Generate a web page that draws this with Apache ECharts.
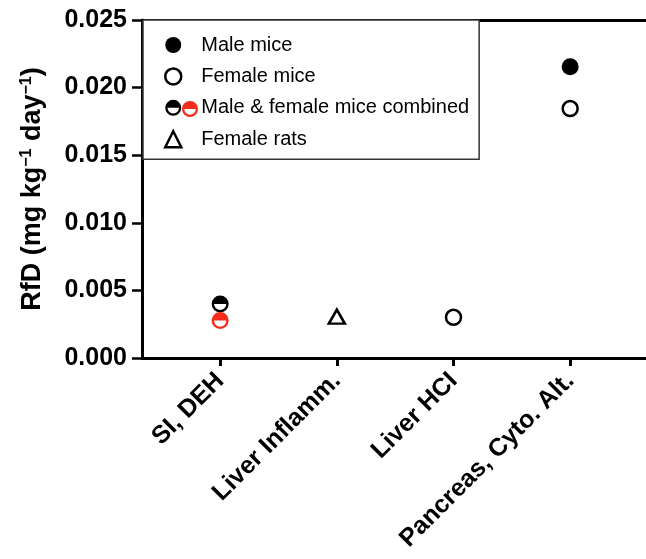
<!DOCTYPE html>
<html>
<head>
<meta charset="utf-8">
<script src="https://cdn.jsdelivr.net/npm/echarts@6/dist/echarts.min.js"></script>
<style>html,body{margin:0;padding:0;background:#fff}#c{width:646px;height:559px}</style>
</head>
<body>
<div id="c"></div>
<script>
// ---- data ----
const categories = ['SI, DEH', 'Liver Inflamm.', 'Liver HCI', 'Pancreas, Cyto. Alt.'];
const categoryPos = [1, 2, 3, 4];
const yTicks = [0, 0.005, 0.010, 0.015, 0.020, 0.025];
const maleMice = [[4, 0.02155]];
const femaleMice = [[4, 0.01845], [3, 0.00301]];
const combinedBlack = [[1, 0.00400]];
const combinedRed = [[1, 0.00277]];
const femaleRats = [[2, 0.00306]];
const seriesNames = ['Male mice', 'Female mice', 'Male & female mice combined', 'Female rats'];

const FONT = 'Liberation Sans, Arial, Helvetica, sans-serif';
const RED = '#f52d1a';
const HALF = 'path://M0,50 A50,50 0 0 1 100,50 Z M0,50 A50,50 0 0 0 100,50 L86,50 A36,36 0 0 1 14,50 Z';

const chart = echarts.init(document.getElementById('c'));
chart.setOption({
  animation: false,
  backgroundColor: '#fff',
  grid: { left: 142, right: 0, top: 20, bottom: 201, containLabel: false },
  xAxis: [{
    type: 'value', min: 0.33, max: 4.65,
    axisLine: { show: true, onZero: false, lineStyle: { color: '#000', width: 3 } },
    axisTick: { show: true, customValues: categoryPos, length: 8, lineStyle: { color: '#000', width: 3 } },
    axisLabel: {
      customValues: categoryPos, rotate: 45, margin: 19,
      formatter: v => categories[Math.round(v) - 1] || '',
      color: '#000', fontFamily: FONT, fontWeight: 'bold', fontSize: 25
    },
    splitLine: { show: false }
  }, {
    type: 'value', min: 0.33, max: 4.65, position: 'top',
    axisLine: { show: true, onZero: false, lineStyle: { color: '#000', width: 3 } },
    axisTick: { show: false }, axisLabel: { show: false }, splitLine: { show: false }
  }],
  yAxis: {
    type: 'value', min: yTicks[0], max: yTicks[yTicks.length - 1], interval: 0.005,
    axisLine: { show: true, onZero: false, lineStyle: { color: '#000', width: 3 } },
    axisTick: { show: true, length: 10, lineStyle: { color: '#000', width: 2.5 } },
    axisLabel: {
      margin: 15, formatter: v => v.toFixed(3),
      color: '#000', fontFamily: FONT, fontWeight: 'bold', fontSize: 25
    },
    splitLine: { show: false },
    name: '{b|RfD (mg kg}{s|−1}{b| day}{s|−1}{b|)}',
    nameLocation: 'middle', nameRotate: 90, nameGap: 96,
    nameTextStyle: {
      rich: {
        b: { fontFamily: FONT, fontWeight: 'bold', fontSize: 27, color: '#000' },
        s: { fontFamily: FONT, fontWeight: 'bold', fontSize: 16, color: '#000', verticalAlign: 'top' }
      }
    }
  },
  legend: [{
    orient: 'vertical', left: 143, top: 20,
    padding: [14, 10, 9, 21], itemGap: 9.4, itemWidth: 16, itemHeight: 16,
    borderColor: '#333', borderWidth: 1.5, backgroundColor: '#fff',
    selectedMode: false,
    textStyle: { fontFamily: FONT, fontSize: 20, color: '#000', lineHeight: 22, padding: [0, 0, 0, 15] },
    data: [
      { name: seriesNames[0], icon: 'circle', itemStyle: { color: '#000', borderWidth: 0, opacity: 1 } },
      { name: seriesNames[1], icon: 'circle', itemStyle: { color: '#fff', borderColor: '#000', borderWidth: 2.5, opacity: 1 } },
      { name: seriesNames[2], icon: HALF, itemStyle: { color: '#000', borderWidth: 0, opacity: 1 } },
      { name: seriesNames[3], icon: 'triangle', itemStyle: { color: '#fff', borderColor: '#000', borderWidth: 2.5, opacity: 1 } }
    ]
  }, {
    orient: 'vertical', left: 182, top: 101, padding: 0,
    itemWidth: 16, itemHeight: 16, selectedMode: false,
    formatter: () => '',
    textStyle: { fontSize: 1, lineHeight: 16 },
    data: [{ name: seriesNames[2] + ' (red)', icon: HALF, itemStyle: { color: RED, borderWidth: 0, opacity: 1 } }]
  }],
  series: [
    { name: seriesNames[0], type: 'scatter', data: maleMice, symbol: 'circle', symbolSize: 17,
      itemStyle: { color: '#000', opacity: 1 }, z: 3 },
    { name: seriesNames[1], type: 'scatter', data: femaleMice, symbol: 'circle', symbolSize: 15,
      itemStyle: { color: '#fff', borderColor: '#000', borderWidth: 2.5, opacity: 1 }, z: 3 },
    { name: seriesNames[2], type: 'scatter', data: combinedBlack, symbol: HALF, symbolSize: 17,
      itemStyle: { color: '#000', opacity: 1 }, z: 3 },
    { name: seriesNames[2] + ' (red)', type: 'scatter', data: combinedRed, symbol: HALF, symbolSize: 17,
      itemStyle: { color: RED, opacity: 1 }, z: 3 },
    { name: seriesNames[3], type: 'scatter', data: femaleRats, symbol: 'triangle', symbolSize: [16, 14],
      itemStyle: { color: '#fff', borderColor: '#000', borderWidth: 2.5, opacity: 1 }, z: 3 }
  ]
});
</script>
</body>
</html>
